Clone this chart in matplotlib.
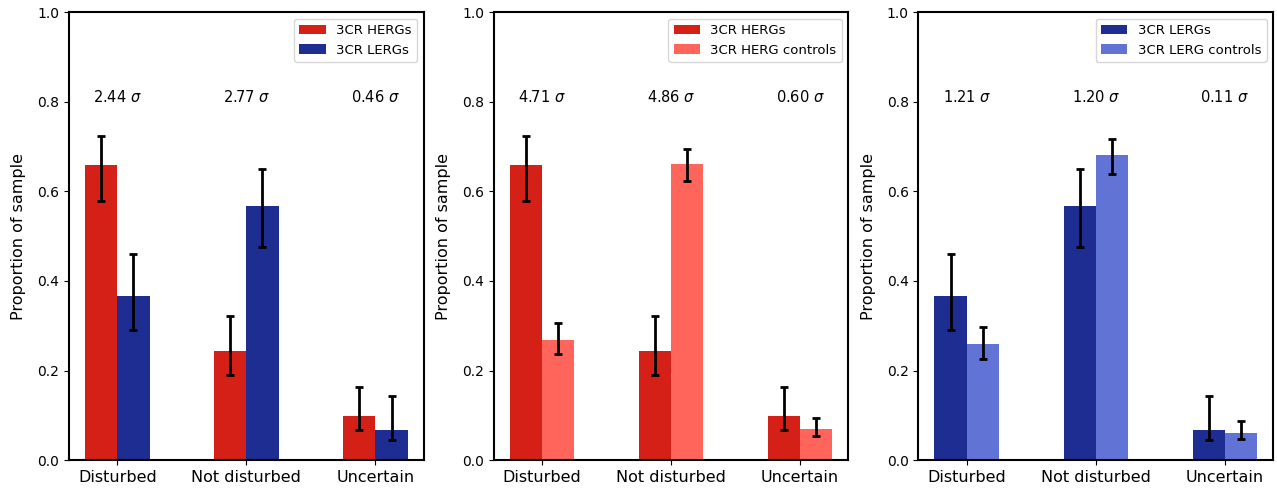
import numpy as np
import matplotlib
matplotlib.use("Agg")
import matplotlib.pyplot as plt

categories = ["Disturbed", "Not disturbed", "Uncertain"]

# proportions and asymmetric error bars (lower, upper)
herg = [0.658, 0.243, 0.098]
herg_lo = [0.578, 0.190, 0.067]
herg_hi = [0.724, 0.322, 0.164]

lerg = [0.366, 0.567, 0.067]
lerg_lo = [0.290, 0.475, 0.045]
lerg_hi = [0.461, 0.650, 0.144]

herg_ctrl = [0.268, 0.661, 0.069]
herg_ctrl_lo = [0.237, 0.623, 0.054]
herg_ctrl_hi = [0.306, 0.695, 0.095]

lerg_ctrl = [0.259, 0.681, 0.060]
lerg_ctrl_lo = [0.225, 0.638, 0.048]
lerg_ctrl_hi = [0.298, 0.718, 0.088]

sig_herg_lerg = ["2.44", "2.77", "0.46"]
sig_herg_ctrl = ["4.71", "4.86", "0.60"]
sig_lerg_ctrl = ["1.21", "1.20", "0.11"]

RED = "#d42016"
LIGHT_RED = "#ff655b"
BLUE = "#1e2d91"
LIGHT_BLUE = "#6273d6"


def draw_panel(ax, a, a_lo, a_hi, b, b_lo, b_hi, labels, colors, sigmas):
    x = np.arange(len(categories))
    w = 0.25
    for off, vals, lo, hi, lab, col in [(-w / 2, a, a_lo, a_hi, labels[0], colors[0]),
                                        (w / 2, b, b_lo, b_hi, labels[1], colors[1])]:
        vals = np.array(vals)
        err = [vals - np.array(lo), np.array(hi) - vals]
        ax.bar(x + off, vals, w, color=col, label=lab)
        ax.errorbar(x + off, vals, yerr=err, fmt="none", ecolor="k",
                    elinewidth=2, capsize=3, capthick=2)
    for xi, s in zip(x, sigmas):
        ax.text(xi, 0.8, s + r" $\sigma$", ha="center", fontsize=10.5)
    ax.set_ylim(0, 1.0)
    ax.set_xticks(x)
    ax.set_xticklabels(categories, fontsize=11.5)
    ax.tick_params(axis="y", labelsize=10)
    ax.set_ylabel("Proportion of sample", fontsize=11.5, labelpad=8)
    for sp in ax.spines.values():
        sp.set_linewidth(1.5)
    ax.legend(loc="upper right", fontsize=9.5)


fig, axes = plt.subplots(1, 3, figsize=(12.77, 4.88), dpi=100)
fig.subplots_adjust(left=0.054, right=0.997, top=0.975, bottom=0.057, wspace=0.197)

draw_panel(axes[0], herg, herg_lo, herg_hi, lerg, lerg_lo, lerg_hi,
           ["3CR HERGs", "3CR LERGs"], [RED, BLUE], sig_herg_lerg)
draw_panel(axes[1], herg, herg_lo, herg_hi, herg_ctrl, herg_ctrl_lo, herg_ctrl_hi,
           ["3CR HERGs", "3CR HERG controls"], [RED, LIGHT_RED], sig_herg_ctrl)
draw_panel(axes[2], lerg, lerg_lo, lerg_hi, lerg_ctrl, lerg_ctrl_lo, lerg_ctrl_hi,
           ["3CR LERGs", "3CR LERG controls"], [BLUE, LIGHT_BLUE], sig_lerg_ctrl)

plt.savefig("out.png", dpi=100)
